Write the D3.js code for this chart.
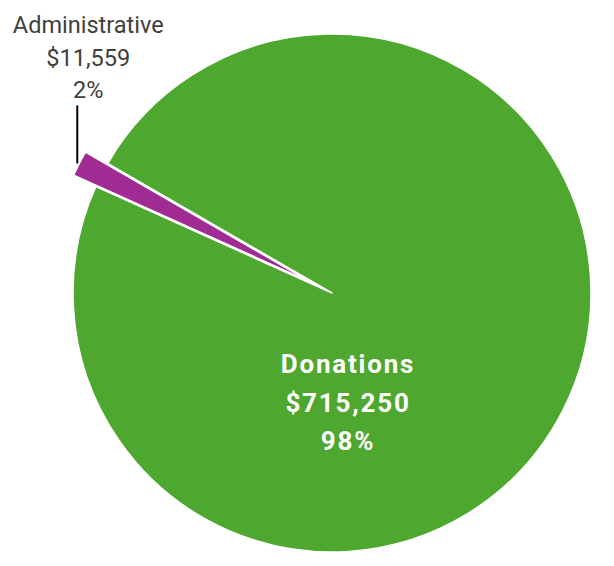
<!DOCTYPE html>
<html lang="en">
<head>
    <meta charset="UTF-8">
    <title>Donations vs Administrative</title>
    <script src="https://d3js.org/d3.v7.min.js"></script>
    <style>
        body { margin: 0; background: #fff; }
        text { font-family: Roboto, "DejaVu Sans", sans-serif; }
    </style>
</head>
<body>
    <div id="chart"></div>

    <script>
        // chart data
        const categories = ["Donations", "Administrative"];
        const amounts = [715250, 11559];
        const colors = ["#4EA72E", "#A02B93"];

        const width = 614;
        const height = 566;
        const cx = 332, cy = 293;
        const radius = 259;
        const explode = [0, 25];

        const total = d3.sum(amounts);
        const fmtMoney = d3.format("$,");
        const fmtPct = v => Math.round(v / total * 100) + "%";

        const svg = d3.select("#chart")
            .append("svg")
            .attr("width", width)
            .attr("height", height);

        const g = svg.append("g")
            .attr("transform", `translate(${cx},${cy})`);

        // first slice starts 300 degrees round, like the original
        const pie = d3.pie()
            .value(d => d)
            .sort(null)
            .startAngle(-Math.PI / 3)
            .endAngle(-Math.PI / 3 + 2 * Math.PI);

        const arc = d3.arc().innerRadius(0).outerRadius(radius);
        const arcs = pie(amounts);

        const offset = (d, i) => {
            const a = (d.startAngle + d.endAngle) / 2;
            return [Math.sin(a) * explode[i], -Math.cos(a) * explode[i]];
        };

        g.selectAll("path")
            .data(arcs)
            .join("path")
            .attr("d", arc)
            .attr("fill", (d, i) => colors[i])
            .attr("stroke", "#fff")
            .attr("stroke-width", 1.5)
            .attr("stroke-linejoin", "round")
            .attr("transform", (d, i) => `translate(${offset(d, i)})`);

        // Donations label inside the slice
        const inner = g.append("text")
            .attr("text-anchor", "middle")
            .attr("fill", "#fff")
            .attr("font-weight", "bold")
            .attr("font-size", 26)
            .attr("letter-spacing", 1.8);
        [categories[0], fmtMoney(amounts[0]), fmtPct(amounts[0])].forEach((t, k) => {
            inner.append("tspan")
                .attr("x", 16)
                .attr("y", 80 + k * 38.5)
                .text(t);
        });

        // Administrative label outside, with a leader line
        const d1 = arcs[1];
        const mid = (d1.startAngle + d1.endAngle) / 2;
        const rOut = radius + explode[1];
        const px = Math.sin(mid) * rOut;
        const py = -Math.cos(mid) * rOut;

        g.append("line")
            .attr("x1", px - 2).attr("y1", py)
            .attr("x2", px - 2).attr("y2", py - 58)
            .attr("stroke", "#000")
            .attr("stroke-width", 2);

        const outer = g.append("text")
            .attr("text-anchor", "middle")
            .attr("fill", "#404040")
            .attr("font-size", 23.5);
        [categories[1], fmtMoney(amounts[1]), fmtPct(amounts[1])].forEach((t, k) => {
            outer.append("tspan")
                .attr("x", px + 9)
                .attr("y", 33 - cy + k * 32.5)
                .text(t);
        });
    </script>
</body>
</html>
